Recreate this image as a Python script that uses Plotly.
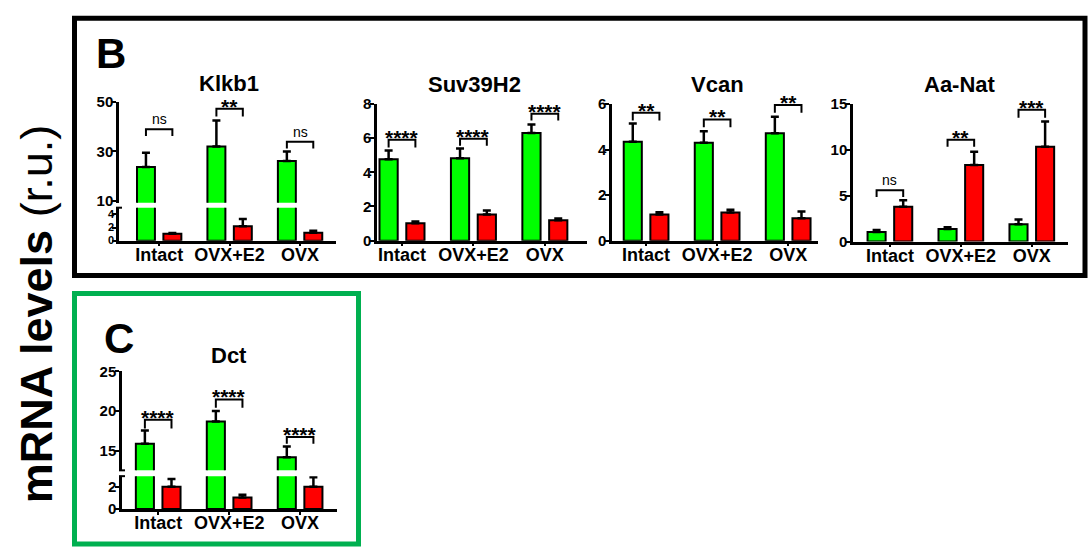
import plotly.graph_objects as go

W, H = 1090, 552

# ---- data -----------------------------------------------------------------
groups = ["Intact", "OVX+E2", "OVX"]

klkb1_green = [23.7, 32.0, 26.1]
klkb1_green_err = [5.8, 10.5, 3.9]
klkb1_red = [1.05, 2.2, 1.2]
klkb1_red_err = [0.12, 1.1, 0.3]
klkb1_sig = ["ns", "**", "ns"]

suv39h2_green = [4.77, 4.82, 6.3]
suv39h2_green_err = [0.5, 0.57, 0.5]
suv39h2_red = [1.02, 1.53, 1.19]
suv39h2_red_err = [0.1, 0.23, 0.11]
suv39h2_sig = ["****", "****", "****"]

vcan_green = [4.34, 4.3, 4.72]
vcan_green_err = [0.8, 0.5, 0.72]
vcan_red = [1.15, 1.23, 0.98]
vcan_red_err = [0.1, 0.13, 0.3]
vcan_sig = ["**", "**", "**"]

aanat_green = [1.06, 1.37, 1.9]
aanat_green_err = [0.2, 0.2, 0.5]
aanat_red = [3.8, 8.34, 10.35]
aanat_red_err = [0.7, 1.45, 2.75]
aanat_sig = ["ns", "**", "***"]

dct_green = [15.85, 18.66, 14.15]
dct_green_err = [1.7, 1.35, 1.35]
dct_red = [2.0, 1.04, 2.0]
dct_red_err = [0.7, 0.26, 0.87]
dct_sig = ["****", "****", "****"]

# ---- styling ----------------------------------------------------------------
FONT = "Liberation Sans, Arial, sans-serif"
GREEN = "#00ff00"
RED = "#ff0000"
FRAME_GREEN = "#00b050"
BAR_W = 0.255
OFF_G = -0.315
OFF_R = 0.06


def fx(p):
    return p / W


def fy(p):
    return 1 - p / H


fig = go.Figure()
layout_axes = {}
shapes = []
annotations = []
_axis_count = [0]


def new_axes(xpx, ypx, xrange, yrange, yticks, show_x, ytick_size=15):
    _axis_count[0] += 1
    n = _axis_count[0]
    s = "" if n == 1 else str(n)
    if show_x:
        xa = dict(
            domain=[fx(xpx[0]), fx(xpx[1])], range=xrange, anchor="y" + s,
            showline=True, linecolor="black", linewidth=2.5,
            tickmode="array", tickvals=list(range(len(groups))), ticktext=groups,
            ticks="outside", ticklen=3, tickwidth=2, tickcolor="black",
            ticklabelstandoff=-7,
            tickfont=dict(family=FONT, size=18, color="black", weight="bold"),
            showgrid=False, zeroline=False, fixedrange=True,
        )
    else:
        xa = dict(domain=[fx(xpx[0]), fx(xpx[1])], range=xrange, anchor="y" + s,
                  visible=False, fixedrange=True)
    ya = dict(
        domain=[fy(ypx[1]), fy(ypx[0])], range=yrange, anchor="x" + s,
        showline=True, linecolor="black", linewidth=2.5,
        tickmode="array", tickvals=yticks,
        ticks="outside", ticklen=4, tickwidth=2, tickcolor="black",
        ticklabelstandoff=-4,
        tickfont=dict(family=FONT, size=ytick_size, color="black", weight="bold"),
        showgrid=False, zeroline=False, fixedrange=True,
    )
    layout_axes["xaxis" + s] = xa
    layout_axes["yaxis" + s] = ya
    return "x" + s, "y" + s


def add_bars(xa, ya, green, green_err, red, red_err):
    idx = list(range(len(groups)))
    for vals, errs, color, off in ((green, green_err, GREEN, OFF_G),
                                   (red, red_err, RED, OFF_R)):
        fig.add_trace(go.Bar(
            x=idx, y=vals, xaxis=xa, yaxis=ya, width=BAR_W, offset=off,
            marker=dict(color=color, line=dict(color="black", width=2)),
            error_y=dict(type="data", symmetric=False, array=errs,
                         arrayminus=[0] * len(vals), color="black",
                         thickness=2.5, width=4),
            showlegend=False, hoverinfo="skip", cliponaxis=True,
        ))


def add_brackets(xa, ya, sig, levels):
    for i, (txt, (top, low)) in enumerate(zip(sig, levels)):
        x0 = i + OFF_G + BAR_W / 2
        x1 = i + OFF_R + BAR_W / 2
        shapes.append(dict(
            type="path", xref=xa, yref=ya,
            path=f"M {x0},{low} L {x0},{top} L {x1},{top} L {x1},{low}",
            line=dict(color="black", width=2),
        ))
        stars = txt != "ns"
        annotations.append(dict(
            x=i, y=top, xref=xa, yref=ya, text=txt, showarrow=False,
            xanchor="center", yanchor="bottom", yshift=-11 if stars else 0,
            font=dict(family=FONT, size=21 if stars else 14, color="black",
                      weight="bold" if stars else "normal"),
        ))


def add_title(text, xc, yc):
    annotations.append(dict(
        x=fx(xc), y=fy(yc), xref="paper", yref="paper", text=text,
        showarrow=False, xanchor="center", yanchor="middle",
        font=dict(family=FONT, size=22, color="black", weight="bold"),
    ))


def add_break_caps(x_axis_px, y_px_list):
    # short end caps where a broken axis segment stops
    for yp in y_px_list:
        shapes.append(dict(type="line", xref="paper", yref="paper",
                           x0=fx(x_axis_px - 3), x1=fx(x_axis_px + 3),
                           y0=fy(yp), y1=fy(yp),
                           line=dict(color="black", width=2)))


# ---- Klkb1 (broken axis) ------------------------------------------------------
xa, ya = new_axes((119, 336), (205, 239), [-0.57, 2.51], [0, 5.04], [0, 2, 4], True,
                  ytick_size=11)
add_bars(xa, ya, klkb1_green, klkb1_green_err, klkb1_red, klkb1_red_err)
xa2, ya2 = new_axes((119, 336), (96, 200), [-0.57, 2.51], [9.22, 50], [10, 30, 50], False)
add_bars(xa2, ya2, klkb1_green, klkb1_green_err, klkb1_red, klkb1_red_err)
add_brackets(xa2, ya2, klkb1_sig, [(39.0, 36.3), (47.3, 44.1), (33.9, 31.2)])
add_break_caps(119, [205])
add_title("Klkb1", 229, 77)

# ---- Suv39H2 ----------------------------------------------------------------
xa, ya = new_axes((377, 587), (98, 239), [-0.35, 2.59], [0, 8], [0, 2, 4, 6, 8], True)
add_bars(xa, ya, suv39h2_green, suv39h2_green_err, suv39h2_red, suv39h2_red_err)
add_brackets(xa, ya, suv39h2_sig, [(5.9, 5.45), (5.96, 5.56), (7.43, 7.04)])
add_title("Suv39H2", 474, 78)

# ---- Vcan -------------------------------------------------------------------
xa, ya = new_axes((612, 818), (98, 239), [-0.48, 2.42], [0, 6], [0, 2, 4, 6], True)
add_bars(xa, ya, vcan_green, vcan_green_err, vcan_red, vcan_red_err)
add_brackets(xa, ya, vcan_sig, [(5.62, 5.28), (5.32, 4.98), (5.96, 5.62)])
add_title("Vcan", 717, 78)

# ---- Aa-Nat -----------------------------------------------------------------
xa, ya = new_axes((853, 1068), (98, 240), [-0.52, 2.51], [0, 15], [0, 5, 10, 15], True)
add_bars(xa, ya, aanat_green, aanat_green_err, aanat_red, aanat_red_err)
add_brackets(xa, ya, aanat_sig, [(5.6, 4.86), (11.1, 10.35), (14.36, 13.5)])
add_title("Aa-Nat", 960, 78)

# ---- Dct (broken axis) --------------------------------------------------------
xa, ya = new_axes((122, 337), (482, 516), [-0.51, 2.52], [0, 2.96], [0, 2], True)
add_bars(xa, ya, dct_green, dct_green_err, dct_red, dct_red_err)
xa2, ya2 = new_axes((122, 337), (374, 476), [-0.51, 2.52], [12.5, 25], [15, 20, 25], False)
add_bars(xa2, ya2, dct_green, dct_green_err, dct_red, dct_red_err)
add_brackets(xa2, ya2, dct_sig, [(18.9, 17.8), (21.46, 20.4), (16.7, 15.85)])
add_break_caps(122, [476, 482])
add_title("Dct", 229, 357)

# ---- panel frames and labels ----------------------------------------------------
shapes.append(dict(type="rect", xref="paper", yref="paper",
                   x0=fx(74.5), x1=fx(1085), y0=fy(275), y1=fy(9.5),
                   line=dict(color="black", width=5)))
shapes.append(dict(type="rect", xref="paper", yref="paper",
                   x0=fx(74.5), x1=fx(358.5), y0=fy(552), y1=fy(293.5),
                   line=dict(color=FRAME_GREEN, width=5)))

for letter, xc, yc in (("B", 111, 46), ("C", 119, 340)):
    annotations.append(dict(
        x=fx(xc), y=fy(yc), xref="paper", yref="paper", text=letter,
        showarrow=False, xanchor="center", yanchor="middle",
        font=dict(family=FONT, size=42, color="black", weight="bold"),
    ))

annotations.append(dict(
    x=fx(36), y=fy(315), xref="paper", yref="paper",
    text="<b>mRNA levels</b> (r.u.)", textangle=-90, showarrow=False,
    xanchor="center", yanchor="middle",
    font=dict(family=FONT, size=45, color="black"),
))

fig.update_layout(
    width=W, height=H, margin=dict(l=0, r=0, t=0, b=0),
    paper_bgcolor="white", plot_bgcolor="rgba(0,0,0,0)",
    barmode="overlay", showlegend=False,
    font=dict(family=FONT, color="black"),
    shapes=shapes, annotations=annotations,
    **layout_axes,
)

fig.write_html("out.html")
